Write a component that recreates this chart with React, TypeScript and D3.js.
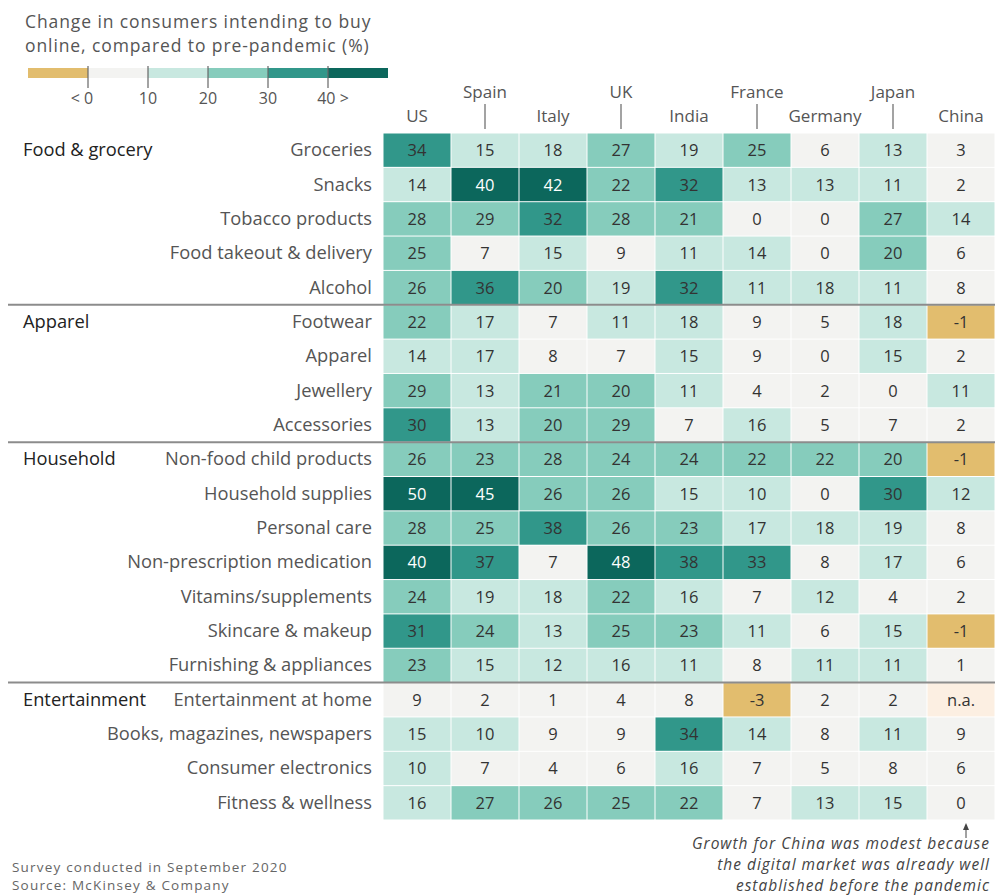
import React from 'react';
import * as d3 from 'd3';

// countries along the top, alternating label heights
const countries = ['US', 'Spain', 'Italy', 'UK', 'India', 'France', 'Germany', 'Japan', 'China'];

const groupNames = ['Food & grocery', 'Apparel', 'Household', 'Entertainment'];
const groupRows = [
  ['Groceries', 'Snacks', 'Tobacco products', 'Food takeout & delivery', 'Alcohol'],
  ['Footwear', 'Apparel', 'Jewellery', 'Accessories'],
  ['Non-food child products', 'Household supplies', 'Personal care', 'Non-prescription medication',
    'Vitamins/supplements', 'Skincare & makeup', 'Furnishing & appliances'],
  ['Entertainment at home', 'Books, magazines, newspapers', 'Consumer electronics', 'Fitness & wellness'],
];

// one row per product, in country order (null = n.a.)
const values: (number | null)[][] = [
  [34, 15, 18, 27, 19, 25, 6, 13, 3],
  [14, 40, 42, 22, 32, 13, 13, 11, 2],
  [28, 29, 32, 28, 21, 0, 0, 27, 14],
  [25, 7, 15, 9, 11, 14, 0, 20, 6],
  [26, 36, 20, 19, 32, 11, 18, 11, 8],
  [22, 17, 7, 11, 18, 9, 5, 18, -1],
  [14, 17, 8, 7, 15, 9, 0, 15, 2],
  [29, 13, 21, 20, 11, 4, 2, 0, 11],
  [30, 13, 20, 29, 7, 16, 5, 7, 2],
  [26, 23, 28, 24, 24, 22, 22, 20, -1],
  [50, 45, 26, 26, 15, 10, 0, 30, 12],
  [28, 25, 38, 26, 23, 17, 18, 19, 8],
  [40, 37, 7, 48, 38, 33, 8, 17, 6],
  [24, 19, 18, 22, 16, 7, 12, 4, 2],
  [31, 24, 13, 25, 23, 11, 6, 15, -1],
  [23, 15, 12, 16, 11, 8, 11, 11, 1],
  [9, 2, 1, 4, 8, -3, 2, 2, null],
  [15, 10, 9, 9, 34, 14, 8, 11, 9],
  [10, 7, 4, 6, 16, 7, 5, 8, 6],
  [16, 27, 26, 25, 22, 7, 13, 15, 0],
];

const thresholds = [0, 10, 20, 30, 40];
const binColors = ['#e2bd6e', '#f3f3f1', '#c8e8e0', '#86ccbc', '#31978a', '#0c675c'];
const legendLabels = ['< 0', '10', '20', '30', '40 >'];

const FONT = '"Open Sans", "Noto Sans", sans-serif';

const App = () => {
  const width = 995;
  const height = 896;

  const rows = groupRows.flat();

  const x = d3.scaleBand().domain(countries).range([383, 995]);
  const y = d3.scaleBand().domain(rows).range([133, 820]);
  const color = d3.scaleThreshold<number, string>().domain(thresholds).range(binColors);

  // legend
  const lx = d3.scaleLinear().domain([-10, 50]).range([28, 388]);
  const legendBins = [-10, 0, 10, 20, 30, 40];

  let start = 0;
  const groups = groupRows.map((g, i) => {
    const first = rows[start];
    start += g.length;
    return { name: groupNames[i], first, last: rows[start - 1] };
  });

  return (
    <svg width={width} height={height} style={{ position: 'absolute', left: 0, top: 0, background: '#fff' }}
      fontFamily={FONT}>
      {/* legend title */}
      <g fontSize={17.5} fill="#555" letterSpacing={0.9}>
        <text x={25} y={28}>Change in consumers intending to buy</text>
        <text x={25} y={52}>online, compared to pre-pandemic (%)</text>
      </g>

      {/* legend bar */}
      {legendBins.map((b, i) => (
        <rect key={i} x={lx(b)} y={68} width={lx(b + 10) - lx(b)} height={10} fill={color(b)} />
      ))}
      {thresholds.map((t, i) => (
        <g key={t}>
          <line x1={lx(t)} x2={lx(t)} y1={66} y2={88} stroke="#666" strokeWidth={1.2} />
          <text x={i === 0 ? lx(t) - 6 : i === 4 ? lx(t) + 5 : lx(t)} y={104} fontSize={16} fill="#555"
            textAnchor="middle">{legendLabels[i]}</text>
        </g>
      ))}

      {/* country header */}
      {countries.map((c, i) => {
        const cx = x(c)! + x.bandwidth() / 2;
        const high = i % 2 === 1;
        return (
          <g key={c}>
            <text x={cx} y={high ? 98 : 122} fontSize={17} fill="#555" textAnchor="middle">{c}</text>
            {high && <line x1={cx} x2={cx} y1={104} y2={129} stroke="#666" strokeWidth={1.2} />}
          </g>
        );
      })}

      {/* cells */}
      {rows.map((r, ri) => (
        <g key={r}>
          {values[ri].map((v, ci) => {
            const c = countries[ci];
            const fill = v === null ? '#fcefe2' : color(v);
            return (
              <g key={c}>
                <rect x={x(c)! + 0.5} y={y(r)! + 0.5} width={x.bandwidth() - 1} height={y.bandwidth() - 1} fill={fill} />
                <text x={x(c)! + x.bandwidth() / 2} y={y(r)! + y.bandwidth() / 2 + 6} fontSize={16.5}
                  textAnchor="middle" fill={v !== null && v >= 40 ? '#fff' : '#333'}>
                  {v === null ? 'n.a.' : v}
                </text>
              </g>
            );
          })}
          <text x={372} y={y(r)! + y.bandwidth() / 2 + 6} fontSize={18.3} fill="#555" textAnchor="end">{r}</text>
        </g>
      ))}

      {/* group labels and separators */}
      {groups.map((g, i) => (
        <g key={g.name}>
          <text x={23} y={y(g.first)! + y.bandwidth() / 2 + 6} fontSize={18.3} fill="#222"
            fontWeight={500}>{g.name}</text>
          {i < groups.length - 1 && (
            <line x1={8} x2={995} y1={y(g.last)! + y.bandwidth()} y2={y(g.last)! + y.bandwidth()}
              stroke="#8c8c8c" strokeWidth={2} />
          )}
        </g>
      ))}

      {/* China note */}
      <line x1={966} x2={966} y1={838} y2={828} stroke="#444" strokeWidth={1} />
      <path d="M963,830 L966,823 L969,830 Z" fill="#444" />
      <g fontSize={15.5} fill="#444" fontStyle="italic" textAnchor="end" letterSpacing={1}>
        <text x={990} y={849}>Growth for China was modest because</text>
        <text x={990} y={870}>the digital market was already well</text>
        <text x={990} y={891}>established before the pandemic</text>
      </g>

      {/* source */}
      <g fontSize={13.5} fill="#666" letterSpacing={1.2}>
        <text x={12} y={872}>Survey conducted in September 2020</text>
        <text x={12} y={890}>Source: McKinsey &amp; Company</text>
      </g>
    </svg>
  );
};

export default App;
